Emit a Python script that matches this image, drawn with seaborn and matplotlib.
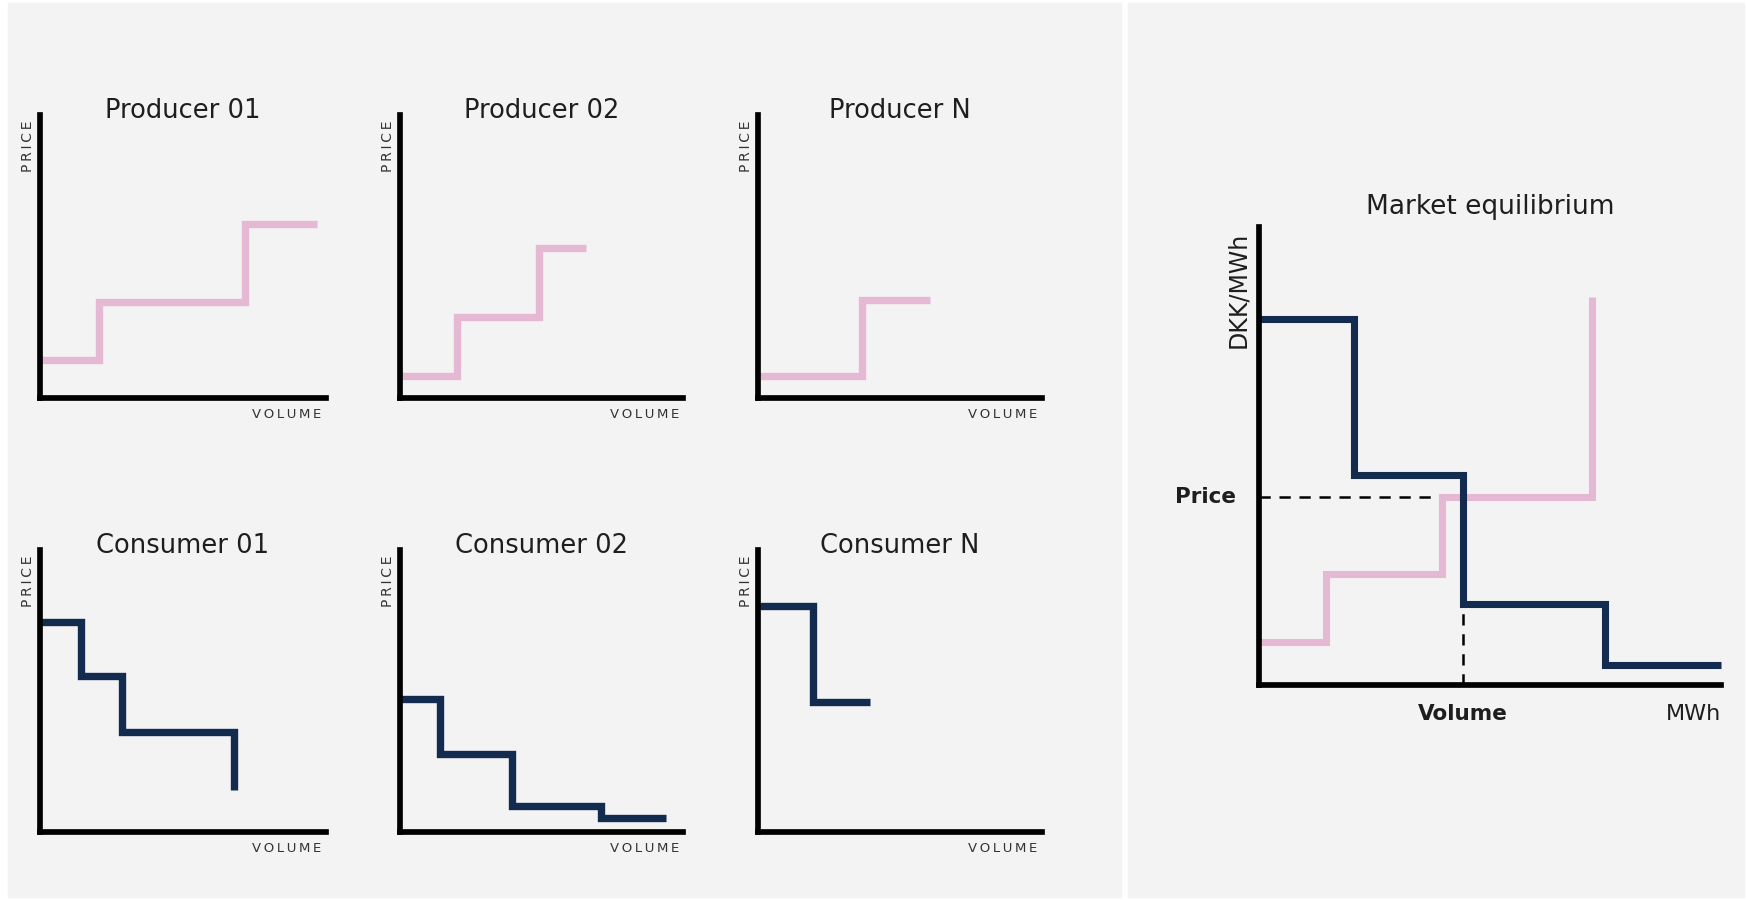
import matplotlib
matplotlib.use("Agg")
import matplotlib.pyplot as plt
from matplotlib.patches import Rectangle
import seaborn as sns

# ---------------- data (relative units 0..10) ----------------
titles_top = ["Producer 01", "Producer 02", "Producer N"]
titles_bottom = ["Consumer 01", "Consumer 02", "Consumer N"]

p1_volume = [0, 2.06, 7.17, 9.69]
p1_price = [1.35, 3.40, 6.15, 6.15]
p2_volume = [0, 2.00, 4.90, 6.57]
p2_price = [0.78, 2.86, 5.30, 5.30]
pn_volume = [0, 3.66, 6.06]
pn_price = [0.78, 3.46, 3.46]

c1_volume = [0, 1.43, 2.85, 6.77, 6.77]
c1_price = [7.45, 5.53, 3.55, 3.55, 1.50]
c2_volume = [0, 1.41, 3.97, 7.10, 9.40]
c2_price = [4.72, 2.77, 0.92, 0.50, 0.50]
cn_volume = [0, 1.94, 3.94]
cn_price = [8.00, 4.60, 4.60]

supply_volume = [0, 1.45, 3.96, 7.21, 7.21]
supply_price = [0.94, 2.42, 4.10, 4.10, 8.47]
demand_volume = [0, 2.06, 4.42, 7.49, 10.0]
demand_price = [7.99, 4.59, 1.77, 0.44, 0.44]
eq_price = 4.10
eq_volume = 4.42
price_guide_end = 3.96

# ---------------- style ----------------
sns.set_theme(style="white")
plt.rcParams["font.family"] = ["DejaVu Sans"]
PINK = "#e5b9d3"
NAVY = "#132b4f"
BG = "#f3f3f3"
TXT = "#1e1e1e"

W, H = 1747, 900
fig = plt.figure(figsize=(W / 100, H / 100), dpi=100, facecolor="white")

def box(x0, y_top, x1, y_bot):
    return [x0 / W, 1 - y_bot / H, (x1 - x0) / W, (y_bot - y_top) / H]

# grey panels (background)
fig.patches.append(Rectangle((8 / W, 1 - 897 / H), (1121 - 8) / W, (897 - 3) / H,
                             transform=fig.transFigure, color=BG, zorder=-10))
fig.patches.append(Rectangle((1128 / W, 1 - 897 / H), (1744 - 1128) / W, (897 - 3) / H,
                             transform=fig.transFigure, color=BG, zorder=-10))

def style_axes(ax, axis_lw=4.1):
    ax.set_facecolor("none")
    ax.set_zorder(5)
    ax.set_xlim(0, 10)
    ax.set_ylim(0, 10)
    ax.set_xticks([])
    ax.set_yticks([])
    ax.set(xlabel="", ylabel="")
    for s in ["top", "right"]:
        ax.spines[s].set_visible(False)
    for s in ["left", "bottom"]:
        ax.spines[s].set_visible(True)
        ax.spines[s].set_color("black")
        ax.spines[s].set_linewidth(axis_lw)
        ax.spines[s].set_capstyle("projecting")
        ax.spines[s].set_zorder(5)

def step_line(ax, xs, ys, color, lw=5.3):
    sns.lineplot(x=xs, y=ys, ax=ax, color=color, linewidth=lw,
                 drawstyle="steps-post", estimator=None, sort=False,
                 solid_capstyle="butt", solid_joinstyle="miter", clip_on=False)

THIN = "\u2009"
price_lbl = THIN.join("PRICE")
volume_lbl = THIN.join("VOLUME")

small = [
    (box(40, 115, 326, 398), titles_top[0], p1_volume, p1_price, PINK),
    (box(400, 115, 683, 398), titles_top[1], p2_volume, p2_price, PINK),
    (box(758, 115, 1042, 398), titles_top[2], pn_volume, pn_price, PINK),
    (box(40, 550, 326, 832), titles_bottom[0], c1_volume, c1_price, NAVY),
    (box(400, 550, 683, 832), titles_bottom[1], c2_volume, c2_price, NAVY),
    (box(758, 550, 1042, 832), titles_bottom[2], cn_volume, cn_price, NAVY),
]

for rect, title, xs, ys, col in small:
    ax = fig.add_axes(rect)
    step_line(ax, xs, ys, col)
    style_axes(ax)
    ax.text(0.5, 0.99, title, transform=ax.transAxes, ha="center", va="baseline",
            fontsize=18.5, color=TXT)
    ax.text(-0.042, 0.98, price_lbl, transform=ax.transAxes, rotation=90,
            ha="center", va="top", fontsize=10, color="#333333")
    ax.text(0.985, -0.057, volume_lbl, transform=ax.transAxes,
            ha="right", va="center", fontsize=9.5, color="#333333")

# ---------------- market equilibrium ----------------
axm = fig.add_axes(box(1259, 227, 1721, 685))
sns.lineplot(x=[0, price_guide_end], y=[eq_price, eq_price], ax=axm, color="black",
             linewidth=1.8, linestyle=(0, (4.5, 3.5)), estimator=None, sort=False)
sns.lineplot(x=[eq_volume, eq_volume], y=[0, demand_price[2]], ax=axm, color="black",
             linewidth=1.8, linestyle=(0, (4.5, 3.5)), estimator=None, sort=False)
step_line(axm, supply_volume, supply_price, PINK, lw=5.1)
step_line(axm, demand_volume, demand_price, NAVY, lw=5.1)
style_axes(axm)
axm.text(0.5, 1 + 13 / 458, "Market equilibrium", transform=axm.transAxes,
         ha="center", va="baseline", fontsize=19, color=TXT)
axm.text(-21 / 462, 1 - 5 / 458, "DKK/MWh", transform=axm.transAxes, rotation=90,
         ha="center", va="top", fontsize=17, color=TXT)
axm.text(-23 / 462, eq_price / 10, "Price", transform=axm.transAxes,
         ha="right", va="center", fontsize=15.5, fontweight="bold", color=TXT)
axm.text(eq_volume / 10, -29 / 458, "Volume", transform=axm.transAxes,
         ha="center", va="center", fontsize=15.5, fontweight="bold", color=TXT)
axm.text(1.0, -29 / 458, "MWh", transform=axm.transAxes,
         ha="right", va="center", fontsize=16, color=TXT)

fig.savefig("out.png", dpi=100, facecolor="white")
